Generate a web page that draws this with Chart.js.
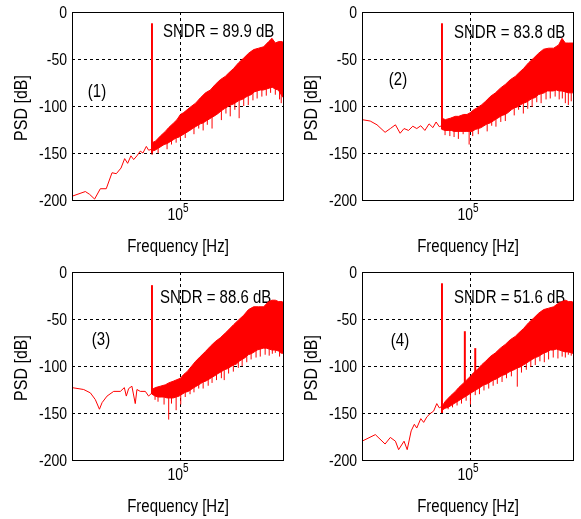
<!DOCTYPE html>
<html>
<head>
<meta charset="utf-8">
<script src="https://cdn.jsdelivr.net/npm/chart.js@4/dist/chart.umd.min.js"></script>
<style>
  body { margin: 0; background: #fff; width: 581px; height: 519px; position: relative; overflow: hidden; }
  canvas { position: absolute; }
</style>
</head>
<body>
<canvas id="c1" width="290" height="260" style="left:0;top:0"></canvas>
<canvas id="c2" width="290" height="260" style="left:290px;top:0"></canvas>
<canvas id="c3" width="290" height="260" style="left:0;top:260px"></canvas>
<canvas id="c4" width="290" height="260" style="left:290px;top:260px"></canvas>
<script>
// upper edge of the noise band, frequency grid (Hz)
const bandF = [65800, 69200, 74500, 80300, 84400, 90900, 95500, 100500, 105500, 111000,
  119000, 126000, 135000, 146000, 157000, 169000, 182000, 196000, 206000, 222000,
  239000, 258000, 277000, 299000, 322000, 347000, 374000, 393000, 413000, 434000, 456000, 470000]
// lower edge of the noise band, finer frequency grid (Hz)
const edgeF = [65900, 68900, 72100, 75400, 78800, 82400, 86200, 90200, 94300, 98600,
  103000, 108000, 113000, 118000, 123000, 129000, 135000, 141000, 147000, 154000,
  161000, 169000, 176000, 185000, 193000, 202000, 211000, 221000, 231000, 241000,
  252000, 264000, 276000, 288000, 302000, 315000, 330000, 345000, 361000, 377000,
  394000, 413000, 432000, 451000, 470000]

// panel 1
const p1LowF = [20000, 24400, 26000, 28000, 30500, 33300, 36300, 38700, 41500, 43800, 45800, 48100, 50100, 52600, 55300, 57500, 60500, 62600, 65800]
const p1LowP = [-196, -191, -194, -199, -188, -188, -171, -172, -166, -156, -161, -153, -157, -153, -148, -150, -143, -147, -146]
const p1Up = [-139, -137.5, -132, -127, -123, -118, -114.5, -109, -107, -104, -100, -97, -91.5, -86, -83, -77,
  -72, -68.5, -65, -60, -54, -49, -44, -40, -38.5, -37, -31.5, -28, -33, -31.5, -31.5, -33]
const p1Dn = [-148, -147, -145, -143, -141, -140, -138, -136, -134, -133, -131, -129, -127, -125, -123,
  -121, -119, -118, -116, -114, -112, -110, -108, -105, -103, -101, -99, -98, -96, -94,
  -93, -91, -89, -88, -85, -84, -83, -83, -82, -81, -80, -82, -83, -88, -92]
const p1DipF = [65900, 72100, 82400, 88000, 94300, 100500, 108000, 123000, 132000, 141000, 150000, 161000, 185000, 198000,
  211000, 226000, 241000, 258000, 276000, 296000, 315000, 338000, 361000, 385000, 413000, 440000, 451000]
const p1DipLo = [-152, -150, -146, -141, -139, -136, -134, -130, -124, -126, -120, -124, -115, -108,
  -111, -104, -113, -100, -99, -94, -92, -90, -89, -86, -88, -93, -97]
const p1DipHi = [-146, -143, -136, -133, -130, -127, -125, -119, -115, -113, -110, -107, -100, -97,
  -94, -92, -89, -86, -84, -80, -79, -78, -77, -76, -77, -80, -82]
const p1SpikeF = [65800]
const p1SpikeTop = [-12]
const p1SpikeBase = [-150]

// panel 2
const p2LowF = [20000, 22600, 25000, 28200, 30500, 32900, 35300, 37400, 40000, 42600, 45200, 48000, 51000, 54300, 57500, 60300, 63200, 65800]
const p2LowP = [-114.5, -116, -120, -128, -124, -120, -129, -124, -126, -121.5, -124, -121, -126, -119, -123, -117, -122, -121]
const p2Up = [-113, -114.5, -113, -111, -111, -109, -109, -107, -104, -102, -98.6, -95, -90, -86, -81, -77,
  -72, -68.5, -65, -60, -54, -49, -44, -39.6, -38.5, -38.5, -35, -28, -33, -33, -33, -33]
const p2Dn = [-125, -126, -126, -126, -127, -127, -127, -127, -127, -127, -127, -125, -124, -123, -121,
  -119, -118, -116, -114, -112, -110, -109, -107, -104, -102, -101, -99, -97, -96, -94,
  -92, -91, -88, -87, -86, -84, -84, -84, -83, -84, -84, -85, -86, -86, -86]
const p2DipF = [68900, 74000, 78800, 84000, 90200, 98600, 104000, 113000, 129000, 138000, 147000, 158000, 169000, 193000,
  206000, 221000, 236000, 252000, 270000, 288000, 310000, 330000, 355000, 377000, 395000, 413000, 432000, 451000]
const p2DipLo = [-131, -132, -133, -135, -130, -141, -132, -130, -127, -121, -122, -117, -116, -110,
  -104, -108, -103, -101, -96, -97, -93, -92, -90, -93, -92, -97, -99, -95]
const p2DipHi = [-122, -122, -122, -122, -121, -121, -120, -118, -113, -110, -108, -104, -101, -96,
  -93, -91, -89, -86, -84, -82, -80, -79, -78, -78, -79, -80, -80, -81]
const p2SpikeF = [65800]
const p2SpikeTop = [-12]
const p2SpikeBase = [-125]

// panel 3
const p3LowF = [20000, 23800, 26300, 28300, 30100, 31300, 33700, 37200, 41100, 43600, 44900, 46500, 48800, 51300, 52600, 55300, 59600, 62600, 65800]
const p3LowP = [-123, -125, -128.6, -135.7, -146, -139, -132, -127, -127, -123, -132, -124, -121.5, -140, -125, -127, -127, -132, -128.6]
const p3Up = [-125, -123, -121.5, -120, -118, -116, -114.5, -113, -109, -106, -100, -95, -90, -84.5, -79, -74,
  -70, -65, -61.5, -56, -51, -46, -40, -37, -37, -37, -31.5, -30, -30, -31.5, -31.5, -33]
const p3Dn = [-130, -132, -133, -133, -133, -134, -134, -134, -133, -132, -130, -128, -127, -125, -123,
  -121, -119, -117, -116, -114, -112, -110, -108, -106, -104, -103, -101, -99, -98, -95,
  -93, -91, -88, -87, -85, -83, -82, -81, -81, -82, -83, -83, -84, -86, -87]
const p3DipF = [68900, 72000, 78800, 84400, 88000, 94300, 101000, 108000, 116000, 123000, 132000, 141000, 152000, 161000,
  172000, 185000, 193000, 206000, 221000, 238000, 252000, 270000, 288000, 310000, 330000, 355000, 377000, 395000, 413000, 440000, 451000]
const p3DipLo = [-136, -138, -141, -157, -140, -147, -141, -133, -130, -128, -124, -124, -121, -118,
  -115, -113, -115, -108, -106, -102, -100, -96, -93, -91, -90, -88, -89, -87, -86, -90, -87]
const p3DipHi = [-129, -129, -129, -129, -128, -128, -125, -123, -119, -117, -114, -112, -108, -106,
  -103, -100, -99, -96, -94, -91, -88, -84, -82, -79, -77, -76, -77, -78, -78, -80, -81]
const p3SpikeF = [65800]
const p3SpikeTop = [-14]
const p3SpikeBase = [-130]

// panel 4
const p4LowF = [20000, 24400, 28200, 30500, 32900, 34500, 37400, 39200, 41600, 43600, 45200, 48000, 50100, 52600, 55300, 58100, 60900, 63200, 65800]
const p4LowP = [-180, -173, -183, -176, -180, -189, -180, -189, -169, -162, -166, -156, -160, -154, -150.5, -148, -140, -144.5, -143]
const p4Up = [-143, -137.5, -132, -127, -123, -118, -114.5, -111, -107, -104, -98.6, -95, -90, -86, -81, -77,
  -72, -68.5, -65, -60, -54, -49, -44, -40, -38.5, -37, -33, -31.5, -30, -31.5, -31.5, -33]
const p4Dn = [-147, -145, -144, -142, -140, -138, -136, -134, -132, -130, -128, -126, -124, -122, -120,
  -119, -117, -115, -114, -112, -110, -109, -107, -105, -104, -102, -101, -99, -97, -95,
  -93, -91, -90, -88, -86, -85, -83, -83, -82, -83, -84, -85, -85, -86, -87]
const p4DipF = [65900, 72100, 77000, 82400, 88000, 94300, 100500, 108000, 115000, 123000, 132000, 141000, 150000, 161000,
  172000, 185000, 202000, 215000, 231000, 247000, 264000, 283000, 302000, 322000, 345000, 370000, 394000, 413000, 432000, 451000]
const p4DipLo = [-150, -146, -144, -142, -140, -137, -141, -131, -130, -126, -124, -121, -119, -117,
  -113, -111, -122, -107, -104, -101, -99, -95, -96, -93, -91, -92, -90, -91, -88, -89]
const p4DipHi = [-143, -139, -136, -133, -130, -127, -125, -121, -118, -115, -113, -110, -108, -105,
  -103, -100, -97, -95, -92, -89, -86, -84, -82, -80, -78, -78, -79, -80, -80, -81]
const p4SpikeF = [65800, 92500, 108000]
const p4SpikeTop = [-12, -63, -81]
const p4SpikeBase = [-150, -118, -112]

const sndr = ['SNDR = 89.9 dB', 'SNDR = 83.8 dB', 'SNDR = 88.6 dB', 'SNDR = 51.6 dB']
const tags = ['(1)', '(2)', '(3)', '(4)']
const yTicks = [0, -50, -100, -150, -200]
const xTick = 100000

const RED = '#ff0000'
const FONT = '"Liberation Sans", Arial, sans-serif'
const STRETCH = 1.2 // the source text is a bit taller than it is wide

function pts(fs, ps) {
  return fs.map((f, i) => ({ x: f, y: ps[i] }))
}

// vertical strokes, broken apart by null points
function strokes(fs, lo, hi) {
  return fs.flatMap((f, i) => [{ x: f, y: lo[i] }, { x: f, y: hi[i] }, { x: f, y: null }])
}

function say(ctx, text, x, y, size, align, rot) {
  ctx.save()
  ctx.translate(x, y)
  if (rot) ctx.rotate(-Math.PI / 2)
  ctx.scale(1, STRETCH)
  ctx.font = size + 'px ' + FONT
  ctx.fillStyle = '#000'
  ctx.textAlign = align
  ctx.textBaseline = 'middle'
  ctx.fillText(text, 0, 0)
  ctx.restore()
}

const deco = {
  id: 'deco',
  beforeDatasetsDraw(chart, args, opts) {
    const { ctx, chartArea: a } = chart
    say(ctx, opts.note, a.left + opts.nx, a.top + opts.ny, 15, 'left')
    say(ctx, opts.tag, a.left + opts.tx, a.top + opts.ty, 15, 'center')
  },
  afterDraw(chart) {
    const { ctx, chartArea: a, scales: { x, y } } = chart
    ctx.save()
    ctx.strokeStyle = '#000'
    ctx.lineWidth = 1
    ctx.strokeRect(a.left + 0.5, a.top + 0.5, a.right - a.left - 1, a.bottom - a.top)
    ctx.restore()
    yTicks.forEach(v => say(ctx, String(v), a.left - 5, y.getPixelForValue(v) + 1, 14, 'right'))
    const px = x.getPixelForValue(xTick)
    say(ctx, '10', px + 3, a.bottom + 15, 14, 'right')
    say(ctx, '5', px + 3, a.bottom + 9, 10, 'left')
    say(ctx, 'Frequency [Hz]', (a.left + a.right) / 2, a.bottom + 47, 15, 'center')
    say(ctx, 'PSD [dB]', 22, (a.top + a.bottom) / 2 + 2, 16, 'center', true)
  }
}

function panel(id, k, lowF, lowP, up, dn, dipF, dipLo, dipHi, spF, spTop, spBase, pos) {
  const line = { borderColor: RED, borderWidth: 1, pointRadius: 0, tension: 0, fill: false }
  const datasets = [
    { ...line, data: pts(lowF, lowP) },
    { ...line, data: pts(bandF, up), fill: '+1', backgroundColor: RED },
    { ...line, data: pts(edgeF, dn) },
    { ...line, data: strokes(dipF, dipLo, dipHi) },
  ]
  spF.forEach((f, i) => {
    datasets.push({ ...line, borderWidth: 2, data: [{ x: f, y: spBase[i] }, { x: f, y: spTop[i] }] })
  })
  new Chart(document.getElementById(id), {
    type: 'line',
    data: { datasets },
    plugins: [deco],
    options: {
      responsive: false,
      animation: false,
      layout: { padding: { top: 12, right: 6, left: 0, bottom: 0 } },
      plugins: {
        legend: { display: false },
        tooltip: { enabled: false },
        deco: { note: sndr[k], tag: tags[k], ...pos },
      },
      scales: {
        x: {
          type: 'logarithmic',
          min: 20000,
          max: 470000,
          afterBuildTicks: s => { s.ticks = [{ value: xTick }] },
          afterFit: s => { s.height = 60 },
          ticks: { display: false },
          grid: { color: '#000', drawTicks: false, lineWidth: 1 },
          border: { display: false, dash: [3, 3] },
        },
        y: {
          min: -200,
          max: 0,
          afterBuildTicks: s => { s.ticks = yTicks.map(v => ({ value: v })) },
          afterFit: s => { s.width = 72 },
          ticks: { display: false },
          grid: {
            color: c => (c.tick && (c.tick.value === 0 || c.tick.value === -200)) ? 'rgba(0,0,0,0)' : '#000',
            drawTicks: false,
          },
          border: { display: false, dash: [3, 3] },
        },
      },
    },
  })
}

panel('c1', 0, p1LowF, p1LowP, p1Up, p1Dn, p1DipF, p1DipLo, p1DipHi, p1SpikeF, p1SpikeTop, p1SpikeBase, { nx: 91, ny: 20, tx: 25, ty: 80 })
panel('c2', 1, p2LowF, p2LowP, p2Up, p2Dn, p2DipF, p2DipLo, p2DipHi, p2SpikeF, p2SpikeTop, p2SpikeBase, { nx: 92, ny: 21, tx: 36, ty: 68 })
panel('c3', 2, p3LowF, p3LowP, p3Up, p3Dn, p3DipF, p3DipLo, p3DipHi, p3SpikeF, p3SpikeTop, p3SpikeBase, { nx: 88, ny: 26, tx: 29, ty: 68 })
panel('c4', 3, p4LowF, p4LowP, p4Up, p4Dn, p4DipF, p4DipLo, p4DipHi, p4SpikeF, p4SpikeTop, p4SpikeBase, { nx: 92, ny: 26, tx: 38, ty: 69 })
</script>
</body>
</html>
